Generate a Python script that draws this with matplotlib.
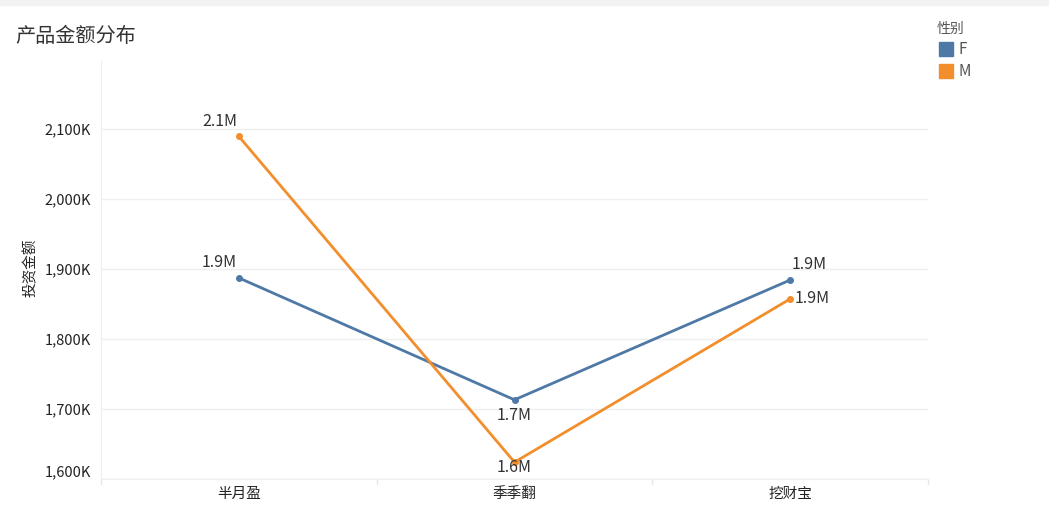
import numpy as np
import matplotlib.pyplot as plt
from matplotlib.patches import Rectangle
from matplotlib.ticker import FuncFormatter

plt.rcParams['font.family'] = ['Noto Sans CJK SC', 'DejaVu Sans']

products = ['半月盈', '季季翻', '挖财宝']
amount_f = [1887000, 1713000, 1884000]
amount_m = [2089000, 1624000, 1857000]
y_ticks = [1600000, 1700000, 1800000, 1900000, 2000000, 2100000]

c_f = '#4e79a7'
c_m = '#f28e2b'

fig = plt.figure(figsize=(10.49, 5.11), dpi=100)
fig.patches.append(Rectangle((0, 1 - 5 / 511), 1, 5 / 511, transform=fig.transFigure,
                             color='#f2f2f2', zorder=0))
ax = fig.add_axes([101 / 1049, 32 / 511, 827 / 1049, 419 / 511])

x = np.arange(len(products))
ax.plot(x, amount_f, color=c_f, lw=2, marker='o', ms=4, zorder=3)
ax.plot(x, amount_m, color=c_m, lw=2, marker='o', ms=4, zorder=3)

ax.set_xlim(-0.5, len(products) - 0.5)
ax.set_ylim(1600000, 2198000)
ax.set_yticks(y_ticks)
ax.yaxis.set_major_formatter(FuncFormatter(lambda v, p: f'{v / 1000:,.0f}K'))
ax.set_xticks(x)
ax.set_xticklabels(products)
ax.tick_params(axis='both', length=0, labelsize=10.5, colors='#222222', pad=7)
ax.tick_params(axis='x', pad=6)
ax.get_yticklabels()[0].set_va('bottom')

ax.grid(axis='y', color='#efefef', lw=1)
ax.set_axisbelow(True)
for s in ['top', 'right']:
    ax.spines[s].set_visible(False)
ax.spines['left'].set_color('#efefef')
ax.spines['bottom'].set_color('#efefef')
for b in np.arange(-0.5, len(products), 1.0):
    ax.plot([b, b], [0, -0.012], transform=ax.get_xaxis_transform(), color='#e6e6e6',
            lw=1, clip_on=False)


def fmt(v):
    return f'{v / 1e6:.1f}M'


lab = dict(fontsize=11.5, color='#333333', textcoords='offset points')
# F labels
ax.annotate(fmt(amount_f[0]), (0, amount_f[0]), xytext=(-14, 11), ha='center', va='center', **lab)
ax.annotate(fmt(amount_f[1]), (1, amount_f[1]), xytext=(0, -11), ha='center', va='center', **lab)
ax.annotate(fmt(amount_f[2]), (2, amount_f[2]), xytext=(14, 11), ha='center', va='center', **lab)
# M labels
ax.annotate(fmt(amount_m[0]), (0, amount_m[0]), xytext=(-14, 11), ha='center', va='center', **lab)
ax.annotate(fmt(amount_m[1]), (1, amount_m[1]), xytext=(0, -4), ha='center', va='center', **lab)
ax.annotate(fmt(amount_m[2]), (2, amount_m[2]), xytext=(3, 0), ha='left', va='center', **lab)

fig.text(15 / 1049, 1 - 37 / 511, '产品金额分布', fontsize=14.5, color='#333333', va='center')
fig.text(31 / 1049, 1 - 268 / 511, '投资金额', rotation=90, fontsize=10.5, color='#222222',
         ha='center', va='center')

# legend
fig.text(937 / 1049, 1 - 29 / 511, '性别', fontsize=10, color='#555555', va='center')
for i, (name, c) in enumerate([('F', c_f), ('M', c_m)]):
    yc = 49 + 22 * i
    fig.patches.append(Rectangle((939 / 1049, 1 - (yc + 7) / 511), 14 / 1049, 14 / 511,
                                 transform=fig.transFigure, color=c))
    fig.text(959 / 1049, 1 - yc / 511, name, fontsize=11, color='#555555', va='center')

fig.savefig('out.png', dpi=100)
